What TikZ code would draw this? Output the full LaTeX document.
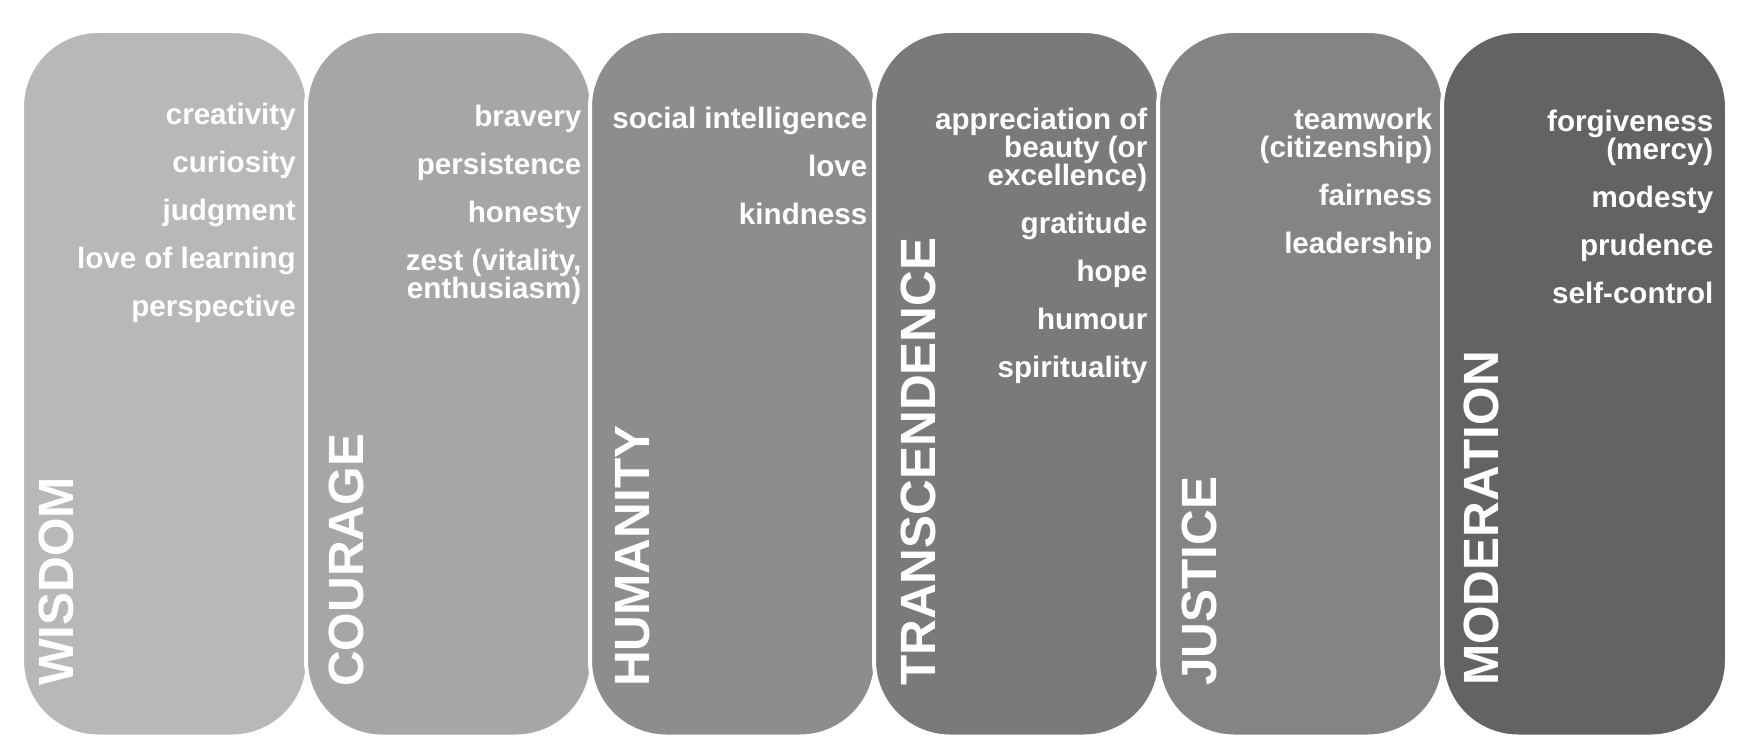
\documentclass[tikz,border=0pt]{standalone}
\usepackage{fontspec}
\setmainfont{Liberation Sans}
\definecolor{cA}{HTML}{B8B8B8}
\definecolor{cB}{HTML}{A6A6A6}
\definecolor{cC}{HTML}{8D8D8D}
\definecolor{cD}{HTML}{7A7A7A}
\definecolor{cE}{HTML}{848484}
\definecolor{cF}{HTML}{636363}
\newcommand\myitemfont{\fontsize{29.6}{27.9}\selectfont\bfseries\lineskiplimit=-100pt\relax}
\newcommand\mytitlefont{\fontsize{49.5}{50}\selectfont\bfseries}
\newcommand\mystrut{\rule{0pt}{25pt}}
\begin{document}
\begin{tikzpicture}[x=1pt,y=-1pt,
  pillar/.style={draw=white, line width=4pt, rounded corners=76pt},
  vtitle/.style={text=white, font=\mytitlefont, rotate=90, anchor=base west, inner sep=0pt},
  items/.style={text=white, font=\myitemfont, align=right, anchor=north east, inner sep=0pt}]
\useasboundingbox[fill=white] (0,0) rectangle (1750,754);
% pillars
\path[pillar, fill=cA] (22,31) rectangle (308,736.5);
\path[pillar, fill=cB] (306,31) rectangle (592,736.5);
\path[pillar, fill=cC] (590,31) rectangle (876,736.5);
\path[pillar, fill=cD] (874,31) rectangle (1160,736.5);
\path[pillar, fill=cE] (1158,31) rectangle (1444,736.5);
\path[pillar, fill=cF] (1442,31) rectangle (1727,736.5);
% titles
\node[vtitle] (wisdom) at (73.5,686) {WISDOM};
\node[vtitle] (courage) at (363.5,687) {COURAGE};
\node[vtitle] (humanity) at (649,687) {HUMANITY};
\node[vtitle] (transcendence) at (935,686) {TRANSCENDENCE};
\node[vtitle] (justice) at (1216,686) {JUSTICE};
\node[vtitle] (moderation) at (1498,686) {MODERATION};
% item lists
\node[items] (wisdomlist) at (296,99.5) {\mystrut creativity\\[20.1pt]curiosity\\[20.1pt]judgment\\[20.1pt]love of learning\\[20.1pt]perspective};
\node[items] (couragelist) at (581.5,101.5) {\mystrut bravery\\[20.1pt]persistence\\[20.1pt]honesty\\[20.1pt]zest (vitality,\\enthusiasm)};
\node[items] (humanitylist) at (867.5,103.5) {\mystrut social intelligence\\[20.1pt]love\\[20.1pt]kindness};
\node[items] (transcendencelist) at (1147.5,104.5) {\mystrut appreciation of\\beauty (or\\excellence)\\[20.1pt]gratitude\\[20.1pt]hope\\[20.1pt]humour\\[20.1pt]spirituality};
\node[items] (justicelist) at (1432.5,104.5) {\mystrut teamwork\\(citizenship)\\[20.1pt]fairness\\[20.1pt]leadership};
\node[items] (moderationlist) at (1713.5,106) {\mystrut forgiveness\\(mercy)\\[20.1pt]modesty\\[20.1pt]prudence\\[20.1pt]self-control};
\end{tikzpicture}
\end{document}
